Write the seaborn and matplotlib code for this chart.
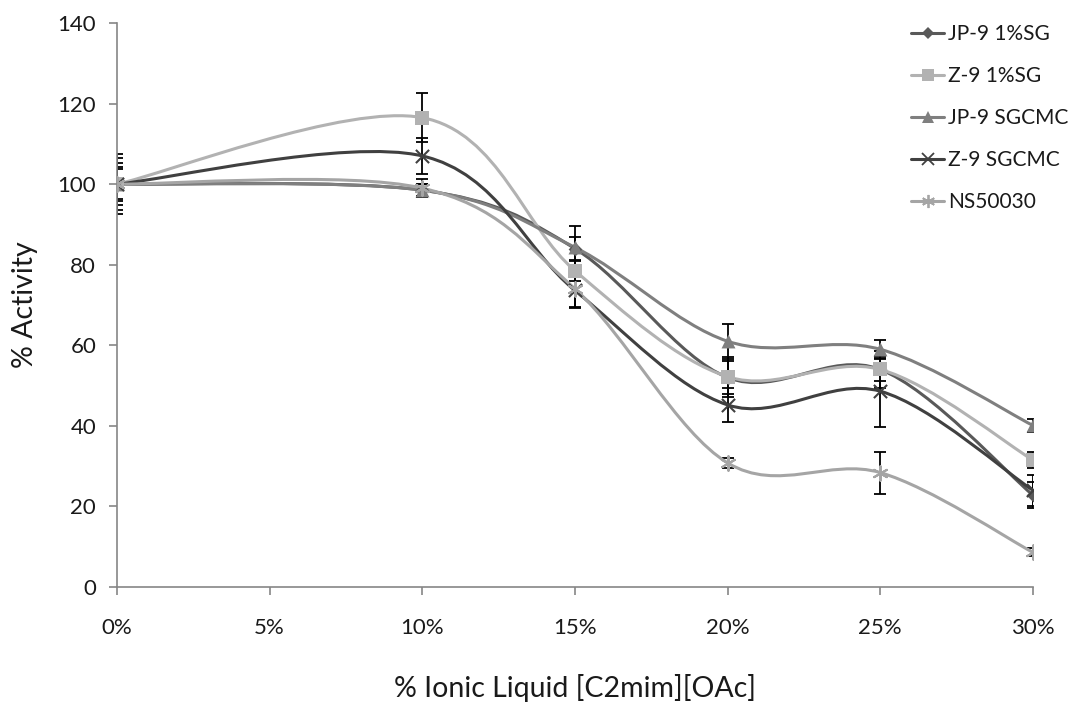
import numpy as np
import pandas as pd
import seaborn as sns
import matplotlib.pyplot as plt
from matplotlib.path import Path
from matplotlib.patches import PathPatch
from matplotlib.lines import Line2D
from matplotlib.ticker import FuncFormatter

# % ionic liquid
ionic = [0, 10, 15, 20, 25, 30]

series = ['JP-9 1%SG', 'Z-9 1%SG', 'JP-9 SGCMC', 'Z-9 SGCMC', 'NS50030']

jp9_sg = [100, 98.5, 84, 52, 54, 22.8]
z9_sg = [100, 116.5, 78.5, 52.2, 54, 31.5]
jp9_sgcmc = [100, 98.5, 84.3, 61, 59, 40.1]
z9_sgcmc = [100, 107, 73.6, 45.2, 48.6, 24]
ns50030 = [100, 99, 74, 30.8, 28.4, 8.6]

jp9_sg_err = [7.5, 1.5, 2.8, 4, 2.8, 3.3]
z9_sg_err = [6.4, 6.0, 2.5, 5, 4.5, 2.0]
jp9_sgcmc_err = [5.3, 1.5, 5.2, 4.4, 2.4, 1.6]
z9_sgcmc_err = [4.3, 4.5, 4.0, 4.3, 8.8, 3.8]
ns50030_err = [3.7, 2.2, 4.8, 1.2, 5.2, 1.0]

values = [jp9_sg, z9_sg, jp9_sgcmc, z9_sgcmc, ns50030]
errors = [jp9_sg_err, z9_sg_err, jp9_sgcmc_err, z9_sgcmc_err, ns50030_err]

colors = {'JP-9 1%SG': '#595959', 'Z-9 1%SG': '#b2b2b2', 'JP-9 SGCMC': '#7f7f7f',
          'Z-9 SGCMC': '#404040', 'NS50030': '#a5a5a5'}
markers = {'JP-9 1%SG': 'D', 'Z-9 1%SG': 's', 'JP-9 SGCMC': '^',
           'Z-9 SGCMC': 'x', 'NS50030': (6, 2, 0)}
sizes = {'JP-9 1%SG': 7, 'Z-9 1%SG': 10, 'JP-9 SGCMC': 10, 'Z-9 SGCMC': 9.5, 'NS50030': 10.5}

rows = []
for name, vals in zip(series, values):
    for x, v in zip(ionic, vals):
        rows.append({'ionic': x, 'activity': v, 'series': name})
df = pd.DataFrame(rows)


def smooth_path(xs, ys):
    # excel style smoothed line: catmull-rom as cubic bezier
    pts = np.column_stack([xs, ys]).astype(float)
    n = len(pts)
    verts = [pts[0]]
    codes = [Path.MOVETO]
    for i in range(n - 1):
        p_prev = pts[i - 1] if i > 0 else pts[i]
        p_next2 = pts[i + 2] if i + 2 < n else pts[i + 1]
        c1 = pts[i] + (pts[i + 1] - p_prev) / 6
        c2 = pts[i + 1] - (p_next2 - pts[i]) / 6
        verts += [c1, c2, pts[i + 1]]
        codes += [Path.CURVE4] * 3
    return Path(verts, codes)


sns.set_style('white')
plt.rcParams['font.family'] = ['Lato', 'DejaVu Sans']
plt.rcParams['text.color'] = '#1a1a1a'
plt.rcParams['axes.labelcolor'] = '#1a1a1a'

fig = plt.figure(figsize=(10.75, 7.07), dpi=100)
ax = fig.add_axes([0.1088, 0.1697, 0.8521, 0.7978])

for name, vals, errs in zip(series, values, errors):
    ax.errorbar(ionic, vals, yerr=errs, fmt='none', ecolor='black', elinewidth=1.3,
                capsize=4, capthick=1.3, zorder=2)

for name, vals in zip(series, values):
    patch = PathPatch(smooth_path(ionic, vals), facecolor='none', edgecolor=colors[name],
                      lw=2.2, zorder=3, capstyle='round')
    ax.add_patch(patch)

filled = ['JP-9 1%SG', 'Z-9 1%SG', 'JP-9 SGCMC']
for name in series:
    sub = df[df['series'] == name]
    if name in filled:
        sns.scatterplot(data=sub, x='ionic', y='activity', ax=ax, color=colors[name],
                        marker=markers[name], s=sizes[name] ** 2, edgecolor=colors[name],
                        linewidth=0, legend=False, zorder=4)
    else:
        sns.scatterplot(data=sub, x='ionic', y='activity', ax=ax, color=colors[name],
                        marker=markers[name], s=sizes[name] ** 2, linewidth=1.5,
                        legend=False, zorder=4)

ax.set_xlim(0, 30)
ax.set_ylim(0, 140)
ax.set_xticks(range(0, 31, 5))
ax.set_yticks(range(0, 141, 20))
ax.xaxis.set_major_formatter(FuncFormatter(lambda v, p: f'{int(v)}%'))
for side in ['top', 'right']:
    ax.spines[side].set_visible(False)
for side in ['left', 'bottom']:
    ax.spines[side].set_color('#868686')
    ax.spines[side].set_linewidth(1.2)
ax.tick_params(axis='both', which='major', direction='out', length=6, width=1.2,
               color='#868686', labelcolor='#1a1a1a', labelsize=16, pad=9,
               bottom=True, left=True)
ax.tick_params(axis='x', pad=16)
ax.set_xlabel('% Ionic Liquid [C2mim][OAc]', fontsize=20.5, labelpad=26)
ax.set_ylabel('% Activity', fontsize=20.5, labelpad=14)

handles = []
for name in series:
    if name in filled:
        h = Line2D([], [], color=colors[name], lw=2.2, marker=markers[name],
                   markersize=sizes[name] * 0.85, markeredgewidth=0)
    else:
        h = Line2D([], [], color=colors[name], lw=2.2, marker=markers[name],
                   markersize=sizes[name] * 0.9, markeredgewidth=1.3)
    handles.append(h)
fig.legend(handles, series, loc='upper left', bbox_to_anchor=(0.83, 0.992),
           frameon=False, fontsize=15, handlelength=1.6, handletextpad=0.2,
           labelspacing=1.05)

fig.savefig('out.png', dpi=100)
